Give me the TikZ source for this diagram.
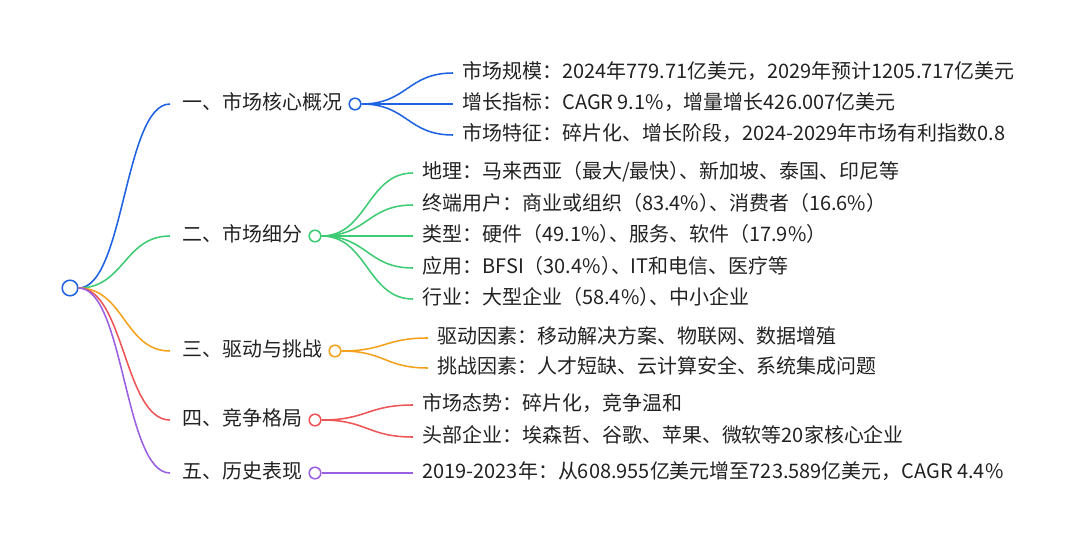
\documentclass[tikz,border=0pt]{standalone}
\usepackage{fontspec}
\setmainfont{Noto Sans CJK SC}
\usetikzlibrary{calc, positioning}
\definecolor{cblue}{HTML}{1E62E2}
\definecolor{cgreen}{HTML}{3FCB73}
\definecolor{corange}{HTML}{F4A21E}
\definecolor{cred}{HTML}{EE5556}
\definecolor{cpurple}{HTML}{9B60E2}
\definecolor{ctext}{HTML}{222222}
\tikzset{
  every picture/.style={x=0.025cm, y=-0.025cm},
  every node/.style={font=\fontsize{14.2}{16}\selectfont, text=ctext},
  link/.style={draw=#1, line width=1.1pt},
  dot/.style={circle, draw=#1, fill=white, line width=1.1pt, inner sep=0pt, minimum size=0.29cm},
  topic/.style={anchor=west, inner xsep=0.3cm, inner ysep=0pt, text height=0.82em, text depth=0.06em},
  leaf/.style={anchor=west, inner xsep=0.23cm, inner ysep=0pt, text height=0.82em, text depth=0.06em},
}
% d3-style horizontal link: controls at the middle x
\newcommand{\branch}[3]{\draw[link=#1] let \p1=(#2), \p2=(#3) in
  (\p1) .. controls ({(\x1+\x2)/2},\y1) and ({(\x1+\x2)/2},\y2) .. (\p2);}
% closing bracket followed by a comma, squeezed
\newcommand{\pc}{）\kern-0.5em、}

\begin{document}
\begin{tikzpicture}
  \useasboundingbox (0,0) rectangle (1080,545);
  % root
  \node[dot=cblue, minimum size=0.39cm] (root) at (70,288) {};
  % first level
  \node[topic] (ov) at (170,104) {一、市场核心概况};
  \node[topic] (seg) at (170,236) {二、市场细分};
  \node[topic] (drv) at (170,351) {三、驱动与挑战};
  \node[topic] (cmp) at (170,420) {四、竞争格局};
  \node[topic] (his) at (170,473) {五、历史表现};
  \node[dot=cblue] (ovd) at (355,104) {};
  \node[dot=cgreen] (segd) at (315,236) {};
  \node[dot=corange] (drvd) at (335,351) {};
  \node[dot=cred] (cmpd) at (315,420) {};
  \node[dot=cpurple] (hisd) at (315,473) {};
  \branch{cblue}{root.east}{ov.west}
  \branch{cgreen}{root.east}{seg.west}
  \branch{corange}{root.east}{drv.west}
  \branch{cred}{root.east}{cmp.west}
  \branch{cpurple}{root.east}{his.west}
  % second level
  \node[leaf] (ov1) at (453,73) {市场规模：2024年779.71亿美元，2029年预计1205.717亿美元};
  \node[leaf] (ov2) at (453,104) {增长指标：CAGR 9.1\%，增量增长426.007亿美元};
  \node[leaf] (ov3) at (453,135) {市场特征：碎片化、增长阶段，2024-2029年市场有利指数0.8};
  \node[leaf] (seg1) at (413,173) {地理：马来西亚（最大/最快\pc 新加坡、泰国、印尼等};
  \node[leaf] (seg2) at (413,205) {终端用户：商业或组织（83.4\%\pc 消费者（16.6\%）};
  \node[leaf] (seg3) at (413,236) {类型：硬件（49.1\%\pc 服务、软件（17.9\%）};
  \node[leaf] (seg4) at (413,268) {应用：BFSI（30.4\%\pc IT和电信、医疗等};
  \node[leaf] (seg5) at (413,299) {行业：大型企业（58.4\%\pc 中小企业};
  \node[leaf] (drv1) at (428,338) {驱动因素：移动解决方案、物联网、数据增殖};
  \node[leaf] (drv2) at (428,368) {挑战因素：人才短缺、云计算安全、系统集成问题};
  \node[leaf] (cmp1) at (413,405) {市场态势：碎片化，竞争温和};
  \node[leaf] (cmp2) at (413,437) {头部企业：埃森哲、谷歌、苹果、微软等20家核心企业};
  \node[leaf] (his1) at (413,473) {2019-2023年：从608.955亿美元增至723.589亿美元，CAGR 4.4\%};
  \foreach \c in {ov1,ov2,ov3} {\branch{cblue}{ovd.east}{\c.west}}
  \foreach \c in {seg1,seg2,seg3,seg4,seg5} {\branch{cgreen}{segd.east}{\c.west}}
  \foreach \c in {drv1,drv2} {\branch{corange}{drvd.east}{\c.west}}
  \foreach \c in {cmp1,cmp2} {\branch{cred}{cmpd.east}{\c.west}}
  \branch{cpurple}{hisd.east}{his1.west}
\end{tikzpicture}
\end{document}
